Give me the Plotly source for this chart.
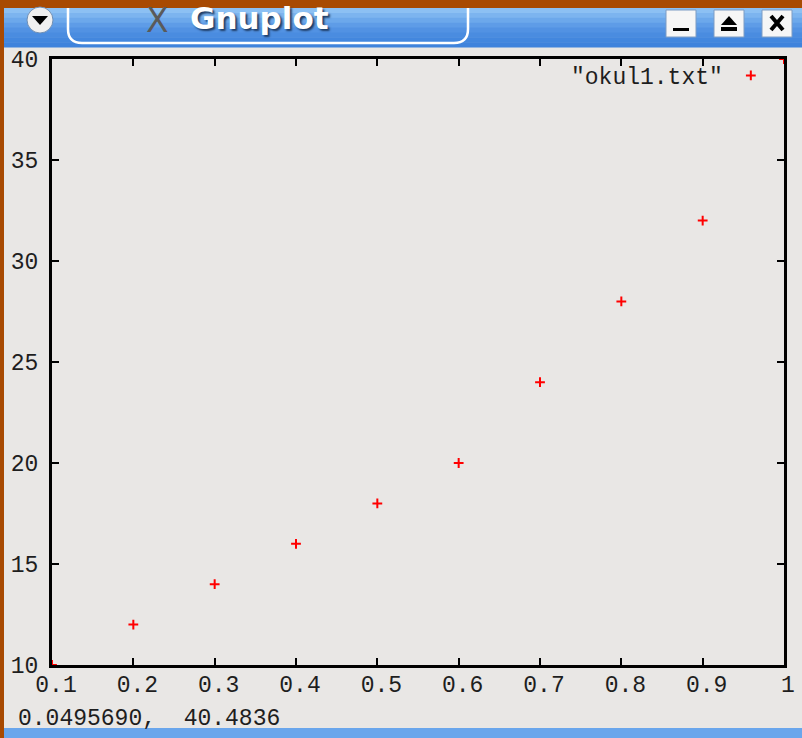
import plotly.graph_objects as go

# ---- data ----
x_vals = [0.1, 0.2, 0.3, 0.4, 0.5, 0.6, 0.7, 0.8, 0.9, 1.0]
y_vals = [10, 12, 14, 16, 18, 20, 24, 28, 32, 40]
x_ticks = [0.1, 0.2, 0.3, 0.4, 0.5, 0.6, 0.7, 0.8, 0.9, 1.0]
x_tick_labels = ["0.1", "0.2", "0.3", "0.4", "0.5", "0.6", "0.7", "0.8", "0.9", "1"]
y_ticks = [10, 15, 20, 25, 30, 35, 40]
y_tick_labels = ["10", "15", "20", "25", "30", "35", "40"]
series_name = '"okul1.txt"'
status_text = "0.0495690,  40.4836"
window_title = "Gnuplot"

W, H = 802, 738


def px(x):
    return x / W


def py(y):
    return (H - y) / H


FONT = "Liberation Mono, DejaVu Sans Mono, monospace"
TXT = "#1e1e1e"
CANVAS = "#e9e7e5"

fig = go.Figure()
fig.add_trace(go.Scatter(
    x=x_vals, y=y_vals, mode="markers", name="",
    marker=dict(symbol="cross-thin", size=7, color="#ff0000", line=dict(width=2, color="#ff0000")),
    cliponaxis=True,
))

shapes = []
annotations = []


def rect(x0, y0, x1, y1, fill, line=None):
    shapes.append(dict(type="rect", xref="paper", yref="paper", x0=px(x0), x1=px(x1), y0=py(y1), y1=py(y0),
                       fillcolor=fill, line=line or dict(width=0)))


def rounded_path(x0, y0, x1, y1, r):
    return (f"M {px(x0 + r)} {py(y0)} L {px(x1 - r)} {py(y0)} "
            f"Q {px(x1)} {py(y0)} {px(x1)} {py(y0 + r)} "
            f"L {px(x1)} {py(y1 - r)} Q {px(x1)} {py(y1)} {px(x1 - r)} {py(y1)} "
            f"L {px(x0 + r)} {py(y1)} Q {px(x0)} {py(y1)} {px(x0)} {py(y1 - r)} "
            f"L {px(x0)} {py(y0 + r)} Q {px(x0)} {py(y0)} {px(x0 + r)} {py(y0)} Z")


# title bar (gradient bands)
bands = ["#8cc0f3", "#7cb4ef", "#6ca8eb", "#5e9ce7", "#5292e3", "#4a8ce0", "#4387de", "#3f83dc"]
bh = (47 - 8) / len(bands)
for i, c in enumerate(bands):
    rect(0, 8 + i * bh, W, 8 + (i + 1) * bh + 0.5, c)
# rounded title box outline (top hidden under the orange band)
shapes.append(dict(type="path", xref="paper", yref="paper", path=rounded_path(68, -20, 468, 43, 14),
                   line=dict(color="#ffffff", width=2.5), fillcolor="rgba(0,0,0,0)"))
# orange desktop band and left edge
rect(0, 0, W, 8, "#a84a02")
rect(0, 0, 4, H, "#a84a02")
# bottom blue strip
rect(4, 728, W, H, "#6aa6ec")

# menu circle
shapes.append(dict(type="circle", xref="paper", yref="paper", x0=px(27), x1=px(53), y0=py(33), y1=py(7),
                   fillcolor="#f0f0f0", line=dict(color="#6f8fb5", width=1)))
shapes.append(dict(type="path", xref="paper", yref="paper",
                   path=f"M {px(32)} {py(16)} L {px(48)} {py(16)} L {px(40)} {py(25)} Z",
                   fillcolor="#000000", line=dict(width=0)))

# window buttons
for cx in [681, 729, 777]:
    rect(cx - 15, 10, cx + 15, 37, "#f6f6f6", dict(color="#7c9cc4", width=1))
# minimize
rect(681 - 8, 28, 681 + 8, 31, "#000000")
# maximize (eject)
shapes.append(dict(type="path", xref="paper", yref="paper",
                   path=f"M {px(721)} {py(25)} L {px(737)} {py(25)} L {px(729)} {py(16)} Z",
                   fillcolor="#000000", line=dict(width=0)))
rect(721, 27, 737, 31, "#000000")
# close
shapes.append(dict(type="path", xref="paper", yref="paper",
                   path=f"M {px(771)} {py(16)} L {px(783)} {py(30)} M {px(783)} {py(16)} L {px(771)} {py(30)}",
                   line=dict(color="#000000", width=4)))

# title text
annotations.append(dict(x=px(157), y=py(21), xref="paper", yref="paper", xanchor="center", yanchor="middle",
                        text="X", showarrow=False, font=dict(size=33, color="#5a5a5a", family="DejaVu Sans")))
annotations.append(dict(x=px(188), y=py(18), xref="paper", yref="paper", xanchor="left", yanchor="middle",
                        text=f"<b>{window_title}</b>", showarrow=False,
                        font=dict(size=31, color="#ffffff", family="DejaVu Sans",
                                  shadow="2px 2px 2px #1f3d66")))

# status line
annotations.append(dict(x=px(16), y=py(719), xref="paper", yref="paper", xanchor="left", yanchor="middle",
                        text=status_text, showarrow=False, font=dict(size=23, color=TXT, family=FONT)))

axis_common = dict(
    showline=True, linecolor="#000000", linewidth=3, mirror="allticks",
    ticks="inside", ticklen=7, tickwidth=2, tickcolor="#000000",
    showgrid=False, zeroline=False, automargin=False,
    tickfont=dict(family=FONT, size=23, color=TXT),
)

fig.update_layout(
    width=W, height=H,
    margin=dict(l=0, r=0, t=0, b=0, pad=0),
    paper_bgcolor=CANVAS, plot_bgcolor=CANVAS,
    xaxis=dict(range=[0.1, 1.0], domain=[px(52), px(784)], tickvals=x_ticks, ticktext=x_tick_labels,
               ticklabelstandoff=-4, ticklabelshift=4, **axis_common),
    yaxis=dict(range=[10, 40], domain=[py(665), py(59)], tickvals=y_ticks, ticktext=y_tick_labels,
               ticklabelstandoff=6, **axis_common),
    showlegend=True,
    legend=dict(x=px(776), y=py(54), xanchor="right", yanchor="top", bgcolor="rgba(0,0,0,0)",
                title=dict(text=series_name, side="left", font=dict(family=FONT, size=23, color=TXT)),
                font=dict(family=FONT, size=23, color=TXT), itemwidth=30),
    shapes=shapes,
    annotations=annotations,
)

fig.write_html("out.html", config={"displayModeBar": False},
               post_script="document.body.style.margin='0';document.body.style.overflow='hidden';")
